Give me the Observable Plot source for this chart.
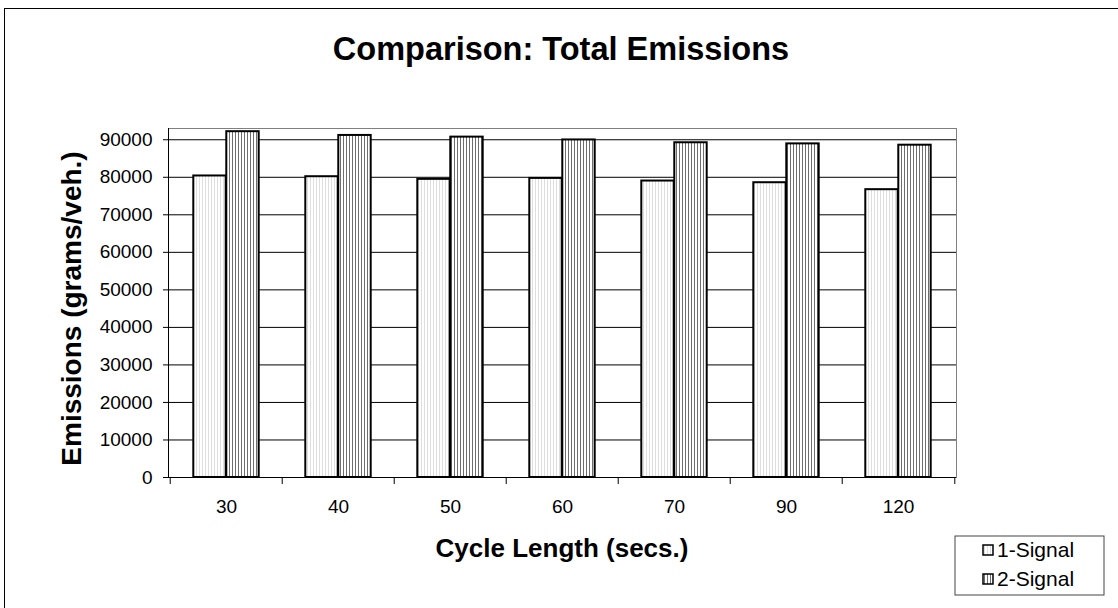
<!DOCTYPE html>
<html>
<head>
<meta charset="utf-8">
<script src="https://cdn.jsdelivr.net/npm/d3@7"></script>
<script src="https://cdn.jsdelivr.net/npm/@observablehq/plot@0.6"></script>
<style>
  html, body { margin: 0; padding: 0; background: #fff; overflow: hidden; }
  #wrap { position: relative; width: 1118px; height: 608px; overflow: hidden; }
  #outline { position: absolute; left: 4px; top: 8px; width: 1400px; height: 900px;
             border-left: 1.5px solid #000; border-top: 1.5px solid #000; pointer-events: none; }
</style>
</head>
<body>
<div id="wrap"><div id="outline"></div></div>
<script>
// Cycle lengths (seconds) and total emissions per vehicle for each signal scenario
const cycles = ["30", "40", "50", "60", "70", "90", "120"];
const oneSignal = [80350, 80150, 79450, 79700, 79000, 78550, 76700];
const twoSignal = [92150, 91150, 90700, 89950, 89200, 88900, 88550];
const seriesNames = ["1-Signal", "2-Signal"];
const yTicks = [0, 10000, 20000, 30000, 40000, 50000, 60000, 70000, 80000, 90000];

const titleText = "Comparison: Total Emissions";
const xTitle = "Cycle Length (secs.)";
const yTitle = "Emissions (grams/veh.)";

const font = "'Liberation Sans', Arial, Helvetica, sans-serif";
const W = 1118, H = 608;
const margin = {left: 168, right: 162, top: 128, bottom: 131};

const rows = cycles.map((c, i) => ({cycle: c, one: oneSignal[i], two: twoSignal[i]}));

// Each category band holds two adjacent bars centred in it
const band = (W - margin.left - margin.right) / cycles.length;
const barW = band * 0.293;
const outer = (band - 2 * barW) / 2;

const chart = Plot.plot({
  width: W,
  height: H,
  marginLeft: margin.left,
  marginRight: margin.right,
  marginTop: margin.top,
  marginBottom: margin.bottom,
  style: {fontFamily: font, fontSize: "19px", color: "#000", background: "transparent", overflow: "visible"},
  x: {domain: cycles, padding: 0, label: null},
  y: {domain: [0, 93000], label: null},
  marks: [
    Plot.frame({stroke: "#808080", strokeWidth: 1}),
    Plot.gridY(yTicks, {stroke: "#000", strokeOpacity: 1, strokeWidth: 1}),
    Plot.barY(rows, {x: "cycle", y: "one", fill: "url(#stripe1)", stroke: "#000", strokeWidth: 2,
                     insetLeft: outer, insetRight: outer + barW}),
    Plot.barY(rows, {x: "cycle", y: "two", fill: "url(#stripe2)", stroke: "#000", strokeWidth: 2,
                     insetLeft: outer + barW, insetRight: outer}),
    Plot.frame({anchor: "left", stroke: "#000", strokeWidth: 1}),
    Plot.ruleY([0], {stroke: "#000", strokeWidth: 1}),
    Plot.axisY(yTicks, {tickSize: 5, tickPadding: 11, tickFormat: d => String(d), label: null, fontSize: 19}),
    // category separators below the axis
    Plot.axisX({tickSize: 7, tickFormat: () => "", dx: -band / 2, label: null}),
    Plot.axisX([cycles[cycles.length - 1]], {tickSize: 7, tickFormat: () => "", dx: band / 2, label: null}),
    Plot.axisX({tickSize: 0, tickPadding: 22, label: null, fontSize: 19})
  ]
});

document.getElementById("wrap").appendChild(chart);

const svg = d3.select(chart);
const defs = svg.insert("defs", ":first-child");
function stripes(id, color) {
  const p = defs.append("pattern").attr("id", id).attr("patternUnits", "userSpaceOnUse")
    .attr("width", 3).attr("height", 3);
  p.append("rect").attr("width", 3).attr("height", 3).attr("fill", "#fff");
  p.append("rect").attr("x", 1).attr("width", 1).attr("height", 3).attr("fill", color);
}
stripes("stripe1", "#dedede");
stripes("stripe2", "#6e6e6e");

const xs = chart.scale("x").range;
const ys = chart.scale("y").range;
const cx = (xs[0] + xs[1]) / 2;
const cy = (ys[0] + ys[1]) / 2;

function label(parent, text, size, bold) {
  return parent.append("text").text(text)
    .attr("font-family", font).attr("font-weight", bold ? "bold" : "normal")
    .attr("font-size", size).attr("fill", "#000");
}

label(svg, titleText, 32.5, true)
  .attr("x", 561).attr("y", 60).attr("text-anchor", "middle");

label(svg, xTitle, 26, true)
  .attr("x", cx).attr("y", 557).attr("text-anchor", "middle");

label(svg, yTitle, 28, true)
  .attr("transform", `translate(81,${cy + 6}) rotate(-90)`).attr("text-anchor", "middle");

// legend box
const lg = svg.append("g").attr("transform", "translate(955,536)");
lg.append("rect").attr("width", 149).attr("height", 59).attr("fill", "#fff").attr("stroke", "#444").attr("stroke-width", 1);
seriesNames.forEach((name, i) => {
  const g = lg.append("g").attr("transform", `translate(28,${9 + i * 29})`);
  g.append("rect").attr("width", 10).attr("height", 10)
    .attr("fill", `url(#stripe${i + 1})`).attr("stroke", "#000").attr("stroke-width", 1.5);
  label(g, name, 21, false).attr("x", 14).attr("y", 12).attr("text-anchor", "start");
});
</script>
</body>
</html>
